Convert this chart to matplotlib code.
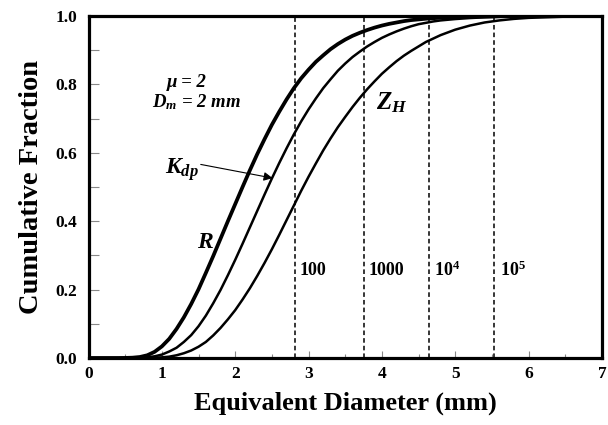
import numpy as np
import matplotlib
matplotlib.use("Agg")
import matplotlib.pyplot as plt
from matplotlib.ticker import MultipleLocator

plt.rcParams['font.family'] = ['Liberation Serif', 'DejaVu Serif']
plt.rcParams['font.weight'] = 'bold'
plt.rcParams['mathtext.fontset'] = 'custom'
plt.rcParams['mathtext.rm'] = 'Liberation Serif:bold'
plt.rcParams['mathtext.it'] = 'Liberation Serif:bold:italic'
plt.rcParams['mathtext.bf'] = 'Liberation Serif:bold'

# equivalent diameter (mm)
diam = [0.0, 0.1, 0.2, 0.3, 0.4, 0.5, 0.6, 0.7, 0.8, 0.9,
        1.0, 1.1, 1.2, 1.3, 1.4, 1.5, 1.6, 1.7, 1.8, 1.9,
        2.0, 2.1, 2.2, 2.3, 2.4, 2.5, 2.6, 2.7, 2.8, 2.9,
        3.0, 3.1, 3.2, 3.3, 3.4, 3.5, 3.6, 3.7, 3.8, 3.9,
        4.0, 4.1, 4.2, 4.3, 4.4, 4.5, 4.6, 4.7, 4.8, 4.9,
        5.0, 5.2, 5.4, 5.6, 5.8, 6.0, 6.5, 7.0]

# cumulative fraction of rain rate
cum_R = [0.0, 0.0, 0.0, 0.0, 0.0, 0.0003, 0.001, 0.003, 0.008, 0.018,
         0.034, 0.056, 0.085, 0.119, 0.158, 0.201, 0.249, 0.298, 0.349, 0.400,
         0.450, 0.500, 0.549, 0.596, 0.640, 0.682, 0.720, 0.756, 0.789, 0.818,
         0.843, 0.866, 0.885, 0.903, 0.918, 0.931, 0.942, 0.951, 0.959, 0.966,
         0.972, 0.977, 0.981, 0.985, 0.988, 0.990, 0.992, 0.9935, 0.995, 0.996,
         0.997, 0.998, 0.9988, 0.9993, 0.9996, 0.9998, 1.0, 1.0]

# cumulative fraction of specific differential phase
cum_Kdp = [0.0, 0.0, 0.0, 0.0, 0.0, 0.0001, 0.0003, 0.0008, 0.002, 0.005,
           0.010, 0.019, 0.030, 0.047, 0.067, 0.093, 0.124, 0.160, 0.199, 0.242,
           0.287, 0.334, 0.382, 0.430, 0.478, 0.525, 0.570, 0.613, 0.654, 0.692,
           0.727, 0.759, 0.789, 0.815, 0.840, 0.861, 0.880, 0.896, 0.911, 0.924,
           0.936, 0.946, 0.955, 0.963, 0.970, 0.976, 0.980, 0.984, 0.987, 0.989,
           0.991, 0.994, 0.996, 0.9975, 0.9985, 0.999, 0.9997, 1.0]

# cumulative fraction of reflectivity
cum_ZH = [0.0, 0.0, 0.0, 0.0, 0.0, 0.0, 0.0, 0.0, 0.0005, 0.001,
          0.002, 0.004, 0.008, 0.014, 0.022, 0.033, 0.047, 0.066, 0.088, 0.113,
          0.140, 0.171, 0.204, 0.240, 0.278, 0.318, 0.360, 0.403, 0.446, 0.489,
          0.530, 0.569, 0.607, 0.642, 0.675, 0.705, 0.734, 0.761, 0.786, 0.809,
          0.831, 0.850, 0.868, 0.884, 0.898, 0.911, 0.924, 0.934, 0.944, 0.952,
          0.960, 0.972, 0.981, 0.987, 0.9915, 0.9945, 0.998, 1.0]

# diameters marked with dashed lines and their labels
mark_d = [2.81, 3.75, 4.64, 5.535]
mark_lbl = ['100', '1000', r'$\mathrm{10^4}$', r'$\mathrm{10^5}$']

fig = plt.figure(figsize=(6.08, 4.25), dpi=100)
ax = fig.add_axes([0.1456, 0.1576, 0.8444, 0.8048])

ax.plot(diam, cum_R, color='black', lw=2.7)
ax.plot(diam, cum_Kdp, color='black', lw=1.8)
ax.plot(diam, cum_ZH, color='black', lw=1.8)

for d, lbl in zip(mark_d, mark_lbl):
    ax.axvline(d, color='black', lw=1.1, ls=(0, (3, 2)))
    ax.text(d + 0.07, 0.255, lbl, fontsize=13, ha='left', va='center')

ax.text(1.34, 0.806, u'\u03bc = 2', fontsize=13.5, style='italic',
        ha='center', va='center')
ax.text(1.47, 0.748, r'$D_m$' + ' = 2 mm', fontsize=13.5, style='italic',
        ha='center', va='center')
ax.text(1.59, 0.338, r'$R$', fontsize=17, ha='center', va='center')
ax.text(1.27, 0.552, r'$K_{dp}$', fontsize=17, ha='center', va='center')
ax.text(4.13, 0.746, r'$Z_H$', fontsize=18, ha='center', va='center')
ax.annotate('', xy=(2.51, 0.526), xytext=(1.53, 0.566),
            arrowprops=dict(arrowstyle='-|>', color='black', lw=0.8,
                            mutation_scale=13, shrinkA=0, shrinkB=0))

ax.set_xlim(0, 7)
ax.set_ylim(0, 1)
ax.xaxis.set_major_locator(MultipleLocator(1))
ax.xaxis.set_minor_locator(MultipleLocator(0.5))
ax.yaxis.set_major_locator(MultipleLocator(0.2))
ax.yaxis.set_minor_locator(MultipleLocator(0.1))
ax.yaxis.set_major_formatter(plt.FormatStrFormatter('%.1f'))
ax.tick_params(which='both', direction='in', color='#888888', width=0.8,
               labelsize=12.5)
ax.tick_params(axis='x', which='major', length=5, pad=6)
ax.tick_params(axis='x', which='minor', length=3)
ax.tick_params(axis='y', which='both', length=7, pad=8)
for s in ax.spines.values():
    s.set_linewidth(2.3)

ax.set_xlabel('Equivalent Diameter (mm)', fontsize=19, fontweight='bold', labelpad=7)
ax.set_ylabel('Cumulative Fraction', fontsize=20.5, fontweight='bold', labelpad=8)

fig.savefig('out.png', dpi=100)
